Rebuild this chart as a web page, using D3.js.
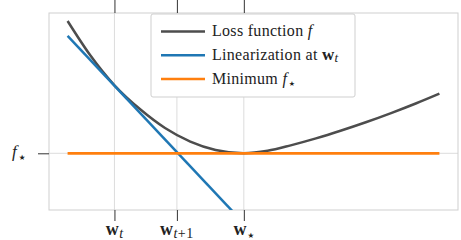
<!DOCTYPE html>
<html>
<head>
<meta charset="utf-8">
<script src="https://cdn.jsdelivr.net/npm/d3@7"></script>
<style>
  body { margin: 0; background: #fff; }
  text { font-family: "Liberation Serif", "DejaVu Serif", serif; fill: #222; }
  .star { font-family: "DejaVu Sans", sans-serif; }
</style>
</head>
<body>
<svg id="chart"></svg>
<script>
// loss curve (w* sits at 0, f* = 0)
const lossX = [-2.37, -2.07, -1.74, -1.39, -1.06, -0.72, -0.38, 0, 0.32, 0.63, 0.97, 1.30, 1.64, 1.98, 2.32, 2.63];
const lossY = [2.646, 1.97, 1.36, 0.875, 0.506, 0.234, 0.066, 0, 0.05, 0.159, 0.298, 0.450, 0.620, 0.804, 1.001, 1.193];
// tangent at w_t, clipped by the axes
const linX = [-2.37, 0.0];
const linY = [2.35, -1.40];
// minimum value
const minX = [-2.37, 2.63];
const minY = [0, 0];

const xTickVals = [-1.74, -0.90, 0];
// subscript of each tick label: italic part, upright part
const xTickSubs = [['t', ''], ['t', '+1'], ['', '\u2605']];
const yTickVals = [0];

const legendNames = ['Loss function', 'Linearization at', 'Minimum'];
const colors = ['#4d4d4d', '#1f77b4', '#ff7f0e'];

const width = 461, height = 240;
const box = { left: 49, right: 458, top: 13, bottom: 210 };

const svg = d3.select('#chart')
    .attr('width', width)
    .attr('height', height);

const x = d3.scaleLinear().domain([-2.62, 2.88]).range([box.left, box.right]);
const y = d3.scaleLinear().domain([-1.134, 2.806]).range([box.bottom, box.top]);

svg.append('clipPath').attr('id', 'clip')
  .append('rect')
    .attr('x', box.left).attr('y', box.top)
    .attr('width', box.right - box.left).attr('height', box.bottom - box.top);

// grid
svg.append('g').selectAll('line')
  .data(xTickVals)
  .join('line')
    .attr('x1', d => x(d)).attr('x2', d => x(d))
    .attr('y1', box.top).attr('y2', box.bottom)
    .attr('stroke', '#dcdcdc').attr('stroke-width', 1);
svg.append('g').selectAll('line')
  .data(yTickVals)
  .join('line')
    .attr('x1', box.left).attr('x2', box.right)
    .attr('y1', d => y(d)).attr('y2', d => y(d))
    .attr('stroke', '#dcdcdc').attr('stroke-width', 1);

// frame
svg.append('rect')
    .attr('x', box.left).attr('y', box.top)
    .attr('width', box.right - box.left).attr('height', box.bottom - box.top)
    .attr('fill', 'none').attr('stroke', '#cfcfcf').attr('stroke-width', 1);

// ticks
function styleAxis(g) {
  g.select('.domain').remove();
  g.selectAll('.tick line').attr('stroke', '#333').attr('stroke-width', 1);
  g.selectAll('.tick text').remove();
}
svg.append('g')
    .attr('transform', `translate(0,${box.bottom})`)
    .call(d3.axisBottom(x).tickValues(xTickVals).tickSize(11))
    .call(styleAxis);
svg.append('g')
    .attr('transform', `translate(0,${box.top})`)
    .call(d3.axisTop(x).tickValues(xTickVals).tickSize(14))
    .call(styleAxis);
svg.append('g')
    .attr('transform', `translate(${box.left},0)`)
    .call(d3.axisLeft(y).tickValues(yTickVals).tickSize(11))
    .call(styleAxis);

// tick labels
const xl = svg.append('g').selectAll('text')
  .data(xTickVals)
  .join('text')
    .attr('x', d => x(d))
    .attr('y', 235)
    .attr('text-anchor', 'middle')
    .style('font-size', '18px');
xl.append('tspan').attr('font-weight', 'bold').text('w');
xl.each(function(d, i) {
  const t = d3.select(this);
  const [it, up] = xTickSubs[i];
  if (it) {
    t.append('tspan').attr('dy', 2.5).attr('dx', 0.5)
        .attr('font-style', 'italic').style('font-size', '14px').text(it);
  }
  if (up === '\u2605') {
    t.append('tspan').attr('dy', 2.5).attr('dx', 1).attr('class', 'star')
        .style('font-size', '7.5px').text(up);
  } else if (up) {
    t.append('tspan').attr('dx', 0.5).style('font-size', '14px')
        .style('letter-spacing', '0.6px').text(up);
  }
});

const yl = svg.append('g').selectAll('text')
  .data(yTickVals)
  .join('text')
    .attr('x', 12)
    .attr('y', d => y(d) + 4)
    .style('font-size', '17px');
yl.append('tspan').attr('font-style', 'italic').text('f');
yl.append('tspan').attr('dy', 3).attr('dx', 2).attr('class', 'star').style('font-size', '7.5px').text('\u2605');

// lines
const line = d3.line().x(d => x(d[0])).y(d => y(d[1]));
const plot = svg.append('g').attr('clip-path', 'url(#clip)');

plot.append('path')
    .datum(d3.zip(lossX, lossY))
    .attr('d', line.curve(d3.curveMonotoneX))
    .attr('fill', 'none').attr('stroke', colors[0]).attr('stroke-width', 2.5);
line.curve(d3.curveLinear);
plot.append('path')
    .datum(d3.zip(linX, linY))
    .attr('d', line)
    .attr('fill', 'none').attr('stroke', colors[1]).attr('stroke-width', 2.5);
plot.append('path')
    .datum(d3.zip(minX, minY))
    .attr('d', line)
    .attr('fill', 'none').attr('stroke', colors[2]).attr('stroke-width', 2.8);

// legend
const legend = svg.append('g');
legend.append('rect')
    .attr('x', 151).attr('y', 14).attr('width', 204).attr('height', 83)
    .attr('rx', 2)
    .attr('fill', '#fff').attr('stroke', '#cfcfcf');
const rows = legend.selectAll('g.row')
  .data(legendNames)
  .join('g')
    .attr('class', 'row')
    .attr('transform', (d, i) => `translate(0,${31.5 + i * 23.8})`);
rows.append('line')
    .attr('x1', 161).attr('x2', 205)
    .attr('stroke', (d, i) => colors[i]).attr('stroke-width', 2.5);
const lt = rows.append('text')
    .attr('x', 212).attr('y', 4.5)
    .style('font-size', '16px')
    .style('letter-spacing', '0.3px');
lt.append('tspan').text(d => d + ' ');
// maths bits of each legend entry
lt.each(function(d, i) {
  const t = d3.select(this);
  if (i === 0) {
    t.append('tspan').attr('font-style', 'italic').text('f');
  } else if (i === 1) {
    t.append('tspan').attr('font-weight', 'bold').style('font-size', '17px').text('w');
    t.append('tspan').attr('dy', 2.5).attr('font-style', 'italic').style('font-size', '13px').text('t');
  } else {
    t.append('tspan').attr('font-style', 'italic').text('f');
    t.append('tspan').attr('dy', 2.5).attr('dx', 1.5).attr('class', 'star').style('font-size', '7px').text('\u2605');
  }
});
</script>
</body>
</html>
